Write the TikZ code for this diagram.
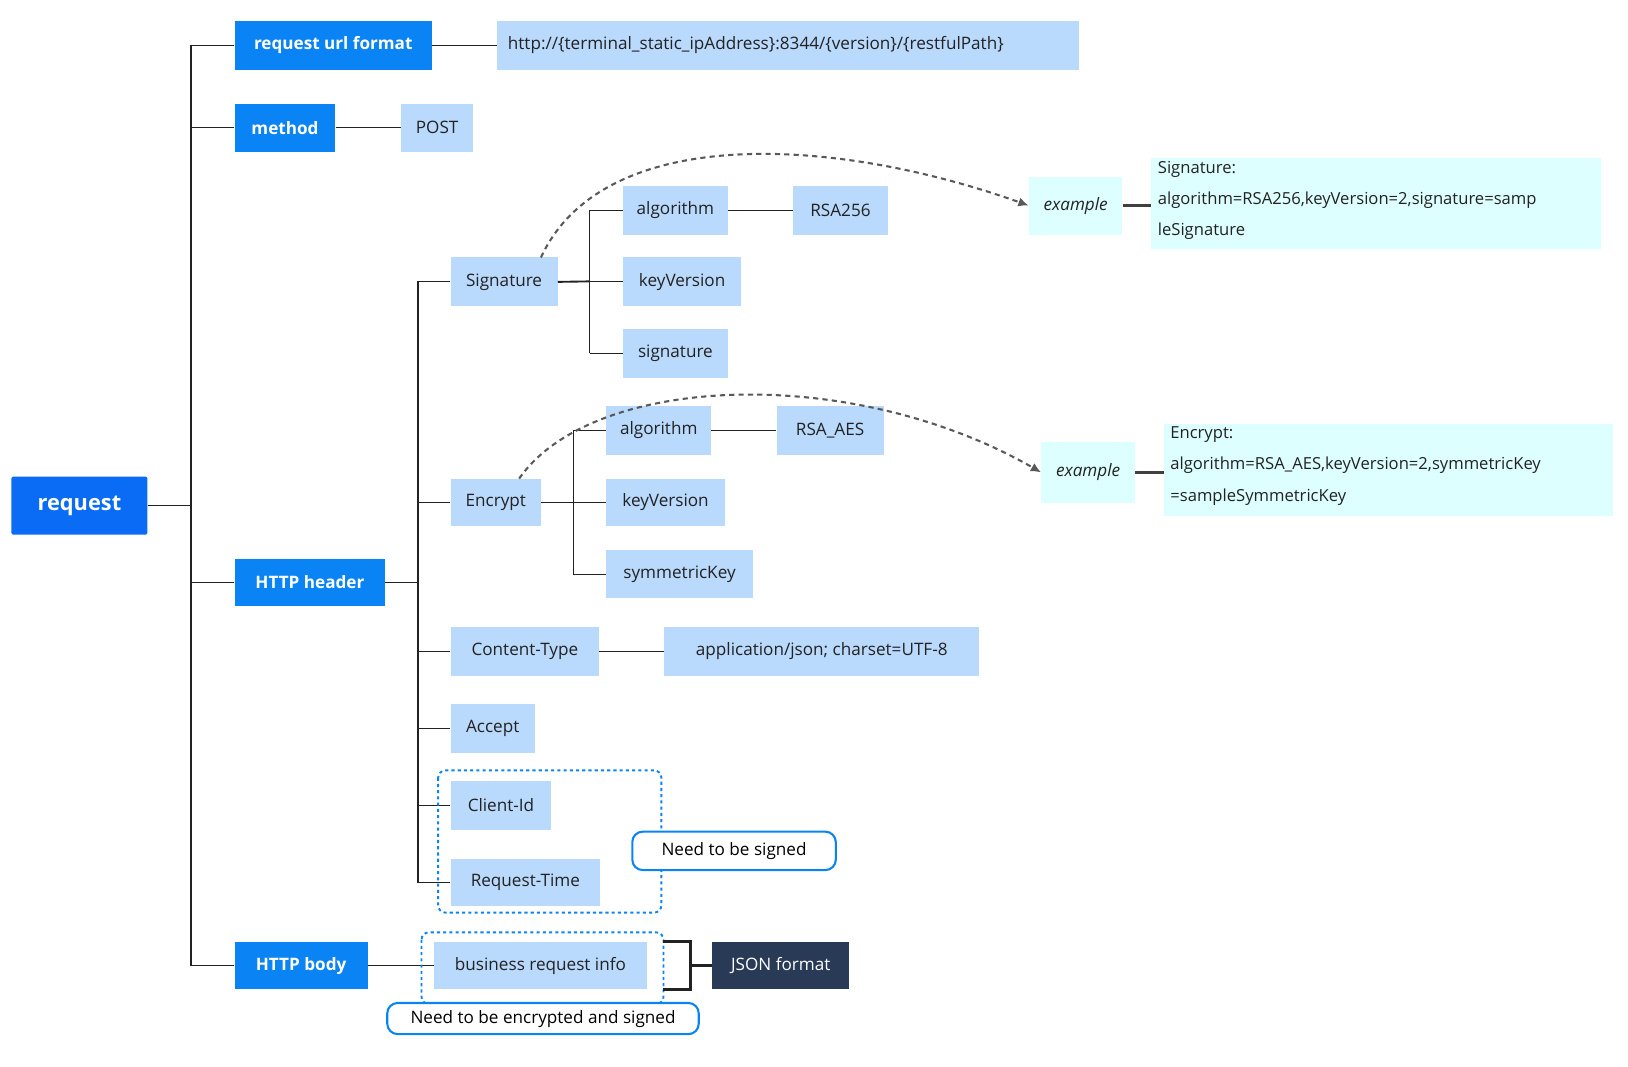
\documentclass[tikz,border=0pt]{standalone}
\usepackage{fontspec}
\setmainfont{Open Sans}
\usetikzlibrary{arrows.meta}
\definecolor{dblue}{HTML}{0A6CF5}
\definecolor{mblue}{HTML}{0A84F5}
\definecolor{lblue}{HTML}{B9D9FD}
\definecolor{cyanb}{HTML}{DDFFFF}
\definecolor{navy}{HTML}{283A55}
\definecolor{txt}{HTML}{222222}
\tikzset{
 bx/.style={inner sep=0pt,anchor=center,font=\fontsize{16.5}{20}\selectfont},
 pri/.style={bx,fill=mblue,text=white,font=\fontsize{16.5}{20}\selectfont\bfseries},
 sec/.style={bx,fill=lblue,text=txt},
 ex/.style={bx,fill=cyanb,text=txt},
 ln/.style={draw=txt,line width=1.1pt},
 dashc/.style={draw=black!65,line width=2pt,dash pattern=on 5pt off 4pt,-{Latex[length=10pt,width=9pt]}},
 dotb/.style={draw=mblue,line width=1.8pt,dash pattern=on 3pt off 3pt,rounded corners=7pt},
 tag/.style={bx,draw=mblue,line width=2pt,fill=white,rounded corners=10pt,text=black}
}
\newcommand{\bxat}[5]{\node[#1,minimum width={#4-#2},minimum height={#5-#3}] at ({(#2+#4)/2},{(#3+#5)/2})}
\begin{document}
\begin{tikzpicture}[x=1pt,y=-1pt]
\useasboundingbox (0,0) rectangle (1568,1027);
\bxat{bx,fill=dblue,text=white,font=\fontsize{21}{24}\selectfont\bfseries,rounded corners=2pt}{11}{459}{142}{515} (req) {request};
\bxat{pri}{226}{20}{416}{67} (url) {request url format};
\bxat{sec}{479}{20}{1039}{67} (urlv) {};
\node[anchor=west,inner sep=0pt,text=txt,font=\fontsize{16.5}{20}\selectfont] at (489,43.5) {http://\{terminal\_static\_ipAddress\}:8344/\{version\}/\{restfulPath\}};
\bxat{pri}{226}{100}{323}{146} (meth) {method};
\bxat{sec}{386}{100}{456}{146} (post) {POST};
\bxat{pri}{226}{538}{371}{584} (hh) {HTTP header};
\bxat{pri}{226}{907}{354}{953} (hb) {HTTP body};
\bxat{sec}{434}{248}{537}{295} (sig) {Signature};
\bxat{sec}{600}{179}{701}{226} (salg) {algorithm};
\bxat{sec}{764}{179}{855}{226} (rsa) {RSA256};
\bxat{sec}{600}{248}{714}{295} (skv) {keyVersion};
\bxat{sec}{600}{317}{701}{364} (ssig) {signature};
\bxat{sec}{434}{461}{521}{507} (enc) {Encrypt};
\bxat{sec}{584}{391}{685}{438} (ealg) {algorithm};
\bxat{sec}{748}{391}{851}{438} (rsaaes) {RSA\_AES};
\bxat{sec}{584}{461}{698}{507} (ekv) {keyVersion};
\bxat{sec}{584}{530}{725}{576} (esk) {symmetricKey};
\bxat{sec}{434}{604}{577}{651} (ct) {Content-Type};
\bxat{sec}{640}{604}{943}{651} (ctv) {application/json; charset=UTF-8};
\bxat{sec}{434}{678}{515}{725} (acc) {Accept};
\bxat{sec}{434}{752}{531}{799} (cid) {Client-Id};
\bxat{sec}{434}{827}{578}{873} (rt) {Request-Time};
\bxat{sec}{418}{907}{623}{953} (bri) {business request info};
\bxat{bx,fill=navy,text=white}{686}{907}{818}{953} (json) {JSON format};
\bxat{ex,font=\fontsize{16.5}{20}\selectfont\itshape}{991}{170}{1081}{226} (ex1) {example};
\bxat{ex,font=\fontsize{16.5}{20}\selectfont\itshape}{1003}{426}{1093}{484} (ex2) {example};
\bxat{ex}{1109}{152}{1542}{240} (ex1t) {};
\node[anchor=north west,inner sep=0pt,align=left,text=txt,font=\fontsize{16}{30}\selectfont] at (1115,155) {Signature:\\algorithm=RSA256,keyVersion=2,signature=samp\\leSignature};
\bxat{ex}{1121}{408}{1554}{497} (ex2t) {};
\node[anchor=north west,inner sep=0pt,align=left,text=txt,font=\fontsize{16}{30}\selectfont] at (1127,411) {Encrypt:\\algorithm=RSA\_AES,keyVersion=2,symmetricKey\\=sampleSymmetricKey};
% tree lines
\draw[ln] (req.east) -- (184,487);
\draw[ln] (184,43) -- (184,930);
\foreach \n in {url,meth,hh,hb} \draw[ln] (184,0|-\n.west) -- (\n.west);
\draw[ln] (url.east) -- (urlv.west);
\draw[ln] (meth.east) -- (post.west);
\draw[ln] (hb.east) -- (bri.west);
\draw[ln,line width=1.8pt] (hh.east) -- (403,561);
\draw[ln,line width=1.8pt] (403,271) -- (403,850);
\foreach \n in {sig,enc,ct,acc,cid,rt} \draw[ln] (403,0|-\n.west) -- (\n.west);
\draw[ln,line width=1.8pt] (sig.east) -- (568,271);
\draw[ln] (568,202) -- (568,340);
\foreach \n in {salg,skv,ssig} \draw[ln] (568,0|-\n.west) -- (\n.west);
\draw[ln,line width=1.8pt] (enc.east) -- (552,484);
\draw[ln] (552,415) -- (552,553);
\foreach \n in {ealg,ekv,esk} \draw[ln] (552,0|-\n.west) -- (\n.west);
\draw[ln] (salg.east) -- (rsa.west);
\draw[ln] (ealg.east) -- (rsaaes.west);
\draw[ln] (ct.east) -- (ctv.west);
\draw[ln,line width=2.2pt,draw=black!75] (ex1.east) -- (ex1.east-|ex1t.west);
\draw[ln,line width=2.2pt,draw=black!75] (ex2.east) -- (ex2.east-|ex2t.west);
\draw[dashc] (521,248) .. controls (580,120) and (800,130) .. (ex1.west);
\draw[dashc] (500,461) .. controls (570,360) and (820,350) .. (ex2.west);
% groups
\draw[dotb] (422,742) rectangle (637,879);
\bxat{tag}{609}{801}{805}{838} (need1) {Need to be signed};
\draw[dotb] (406,898) rectangle (639,967);
\bxat{tag}{373}{966}{673}{996} (need2) {Need to be encrypted and signed};
\draw[line width=2.5pt,draw=txt] (639,907) -- (665,907) -- (665,953) -- (639,953);
\draw[line width=2.5pt,draw=txt] (665,930) -- (json.west);
\end{tikzpicture}
\end{document}
